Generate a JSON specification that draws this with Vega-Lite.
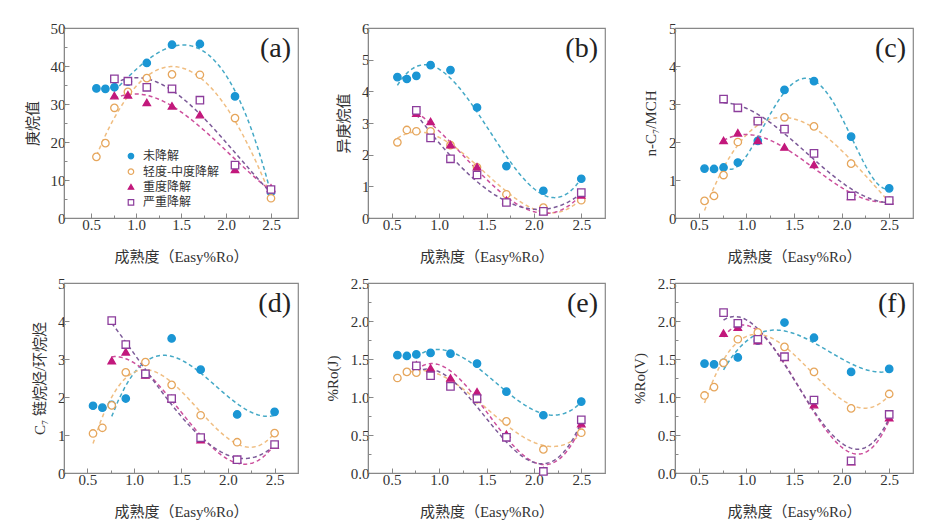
{
  "$schema": "https://vega.github.io/schema/vega-lite/v6.json",
  "background": "white",
  "padding": {"left": 24, "top": 20, "right": 5, "bottom": 5},
  "config": {
    "view": {"stroke": "#888888", "strokeWidth": 1.2},
    "axis": {
      "grid": false,
      "labelFont": "Liberation Serif",
      "labelFontSize": 15,
      "labelColor": "#333333",
      "titleFont": "Liberation Serif, Noto Sans CJK SC",
      "titleFontSize": 15,
      "titleFontWeight": "normal",
      "titleColor": "#333333",
      "domainColor": "#888888",
      "tickColor": "#888888",
      "labelPadding": 4,
      "titlePadding": 10
    },
    "title": {"font": "Liberation Serif", "fontSize": 28, "fontWeight": "normal", "color": "#222222", "anchor": "end", "frame": "group", "baseline": "alphabetic", "offset": -42, "dx": -7}
  },
  "datasets": {
    "legend": [{"grp": "未降解"}, {"grp": "轻度-中度降解"}, {"grp": "重度降解"}, {"grp": "严重降解"}],
    "a": [
      {"ro": 0.56, "grp": "未降解", "val": 34.1}, {"ro": 0.66, "grp": "未降解", "val": 34.0}, {"ro": 0.76, "grp": "未降解", "val": 34.4}, {"ro": 0.91, "grp": "未降解", "val": 35.9}, {"ro": 1.12, "grp": "未降解", "val": 40.8}, {"ro": 1.4, "grp": "未降解", "val": 45.6}, {"ro": 1.71, "grp": "未降解", "val": 45.8}, {"ro": 2.1, "grp": "未降解", "val": 32.0}, {"ro": 2.5, "grp": "未降解", "val": 6.8},
      {"ro": 0.56, "grp": "轻度-中度降解", "val": 16.1}, {"ro": 0.66, "grp": "轻度-中度降解", "val": 19.7}, {"ro": 0.76, "grp": "轻度-中度降解", "val": 29.0}, {"ro": 0.91, "grp": "轻度-中度降解", "val": 33.2}, {"ro": 1.12, "grp": "轻度-中度降解", "val": 36.8}, {"ro": 1.4, "grp": "轻度-中度降解", "val": 37.8}, {"ro": 1.71, "grp": "轻度-中度降解", "val": 37.7}, {"ro": 2.1, "grp": "轻度-中度降解", "val": 26.3}, {"ro": 2.5, "grp": "轻度-中度降解", "val": 5.2},
      {"ro": 0.76, "grp": "重度降解", "val": 32.2}, {"ro": 0.91, "grp": "重度降解", "val": 32.4}, {"ro": 1.12, "grp": "重度降解", "val": 30.4}, {"ro": 1.4, "grp": "重度降解", "val": 29.5}, {"ro": 1.71, "grp": "重度降解", "val": 27.2}, {"ro": 2.1, "grp": "重度降解", "val": 12.8}, {"ro": 2.5, "grp": "重度降解", "val": 7.9},
      {"ro": 0.76, "grp": "严重降解", "val": 36.6}, {"ro": 0.91, "grp": "严重降解", "val": 36.0}, {"ro": 1.12, "grp": "严重降解", "val": 34.4}, {"ro": 1.4, "grp": "严重降解", "val": 34.0}, {"ro": 1.71, "grp": "严重降解", "val": 31.0}, {"ro": 2.1, "grp": "严重降解", "val": 13.9}, {"ro": 2.5, "grp": "严重降解", "val": 7.5}
    ],
    "b": [
      {"ro": 0.56, "grp": "未降解", "val": 4.45}, {"ro": 0.66, "grp": "未降解", "val": 4.39}, {"ro": 0.76, "grp": "未降解", "val": 4.49}, {"ro": 0.91, "grp": "未降解", "val": 4.83}, {"ro": 1.12, "grp": "未降解", "val": 4.67}, {"ro": 1.4, "grp": "未降解", "val": 3.49}, {"ro": 1.71, "grp": "未降解", "val": 1.64}, {"ro": 2.1, "grp": "未降解", "val": 0.86}, {"ro": 2.5, "grp": "未降解", "val": 1.24},
      {"ro": 0.56, "grp": "轻度-中度降解", "val": 2.39}, {"ro": 0.66, "grp": "轻度-中度降解", "val": 2.78}, {"ro": 0.76, "grp": "轻度-中度降解", "val": 2.74}, {"ro": 0.91, "grp": "轻度-中度降解", "val": 2.74}, {"ro": 1.12, "grp": "轻度-中度降解", "val": 2.3}, {"ro": 1.4, "grp": "轻度-中度降解", "val": 1.6}, {"ro": 1.71, "grp": "轻度-中度降解", "val": 0.75}, {"ro": 2.1, "grp": "轻度-中度降解", "val": 0.33}, {"ro": 2.5, "grp": "轻度-中度降解", "val": 0.56},
      {"ro": 0.76, "grp": "重度降解", "val": 3.31}, {"ro": 0.91, "grp": "重度降解", "val": 3.05}, {"ro": 1.12, "grp": "重度降解", "val": 2.32}, {"ro": 1.4, "grp": "重度降解", "val": 1.62}, {"ro": 1.71, "grp": "重度降解", "val": 0.56}, {"ro": 2.1, "grp": "重度降解", "val": 0.21}, {"ro": 2.5, "grp": "重度降解", "val": 0.73},
      {"ro": 0.76, "grp": "严重降解", "val": 3.4}, {"ro": 0.91, "grp": "严重降解", "val": 2.53}, {"ro": 1.12, "grp": "严重降解", "val": 1.87}, {"ro": 1.4, "grp": "严重降解", "val": 1.36}, {"ro": 1.71, "grp": "严重降解", "val": 0.49}, {"ro": 2.1, "grp": "严重降解", "val": 0.21}, {"ro": 2.5, "grp": "严重降解", "val": 0.8}
    ],
    "c": [
      {"ro": 0.56, "grp": "未降解", "val": 1.30}, {"ro": 0.66, "grp": "未降解", "val": 1.29}, {"ro": 0.76, "grp": "未降解", "val": 1.33}, {"ro": 0.91, "grp": "未降解", "val": 1.46}, {"ro": 1.12, "grp": "未降解", "val": 2.03}, {"ro": 1.4, "grp": "未降解", "val": 3.37}, {"ro": 1.71, "grp": "未降解", "val": 3.6}, {"ro": 2.1, "grp": "未降解", "val": 2.14}, {"ro": 2.5, "grp": "未降解", "val": 0.78},
      {"ro": 0.56, "grp": "轻度-中度降解", "val": 0.45}, {"ro": 0.66, "grp": "轻度-中度降解", "val": 0.58}, {"ro": 0.76, "grp": "轻度-中度降解", "val": 1.13}, {"ro": 0.91, "grp": "轻度-中度降解", "val": 2.0}, {"ro": 1.12, "grp": "轻度-中度降解", "val": 2.55}, {"ro": 1.4, "grp": "轻度-中度降解", "val": 2.65}, {"ro": 1.71, "grp": "轻度-中度降解", "val": 2.41}, {"ro": 2.1, "grp": "轻度-中度降解", "val": 1.43}, {"ro": 2.5, "grp": "轻度-中度降解", "val": 0.46},
      {"ro": 0.76, "grp": "重度降解", "val": 2.04}, {"ro": 0.91, "grp": "重度降解", "val": 2.24}, {"ro": 1.12, "grp": "重度降解", "val": 2.04}, {"ro": 1.4, "grp": "重度降解", "val": 1.87}, {"ro": 1.71, "grp": "重度降解", "val": 1.41}, {"ro": 2.1, "grp": "重度降解", "val": 0.57}, {"ro": 2.5, "grp": "重度降解", "val": 0.46},
      {"ro": 0.76, "grp": "严重降解", "val": 3.13}, {"ro": 0.91, "grp": "严重降解", "val": 2.9}, {"ro": 1.12, "grp": "严重降解", "val": 2.55}, {"ro": 1.4, "grp": "严重降解", "val": 2.34}, {"ro": 1.71, "grp": "严重降解", "val": 1.70}, {"ro": 2.1, "grp": "严重降解", "val": 0.58}, {"ro": 2.5, "grp": "严重降解", "val": 0.46}
    ],
    "d": [
      {"ro": 0.56, "grp": "未降解", "val": 1.77}, {"ro": 0.66, "grp": "未降解", "val": 1.72}, {"ro": 0.76, "grp": "未降解", "val": 1.79}, {"ro": 0.91, "grp": "未降解", "val": 1.96}, {"ro": 1.12, "grp": "未降解", "val": 2.6}, {"ro": 1.4, "grp": "未降解", "val": 3.54}, {"ro": 1.71, "grp": "未降解", "val": 2.72}, {"ro": 2.1, "grp": "未降解", "val": 1.54}, {"ro": 2.5, "grp": "未降解", "val": 1.61},
      {"ro": 0.56, "grp": "轻度-中度降解", "val": 1.04}, {"ro": 0.66, "grp": "轻度-中度降解", "val": 1.19}, {"ro": 0.76, "grp": "轻度-中度降解", "val": 1.78}, {"ro": 0.91, "grp": "轻度-中度降解", "val": 2.65}, {"ro": 1.12, "grp": "轻度-中度降解", "val": 2.92}, {"ro": 1.4, "grp": "轻度-中度降解", "val": 2.32}, {"ro": 1.71, "grp": "轻度-中度降解", "val": 1.52}, {"ro": 2.1, "grp": "轻度-中度降解", "val": 0.81}, {"ro": 2.5, "grp": "轻度-中度降解", "val": 1.05},
      {"ro": 0.76, "grp": "重度降解", "val": 2.96}, {"ro": 0.91, "grp": "重度降解", "val": 3.19}, {"ro": 1.12, "grp": "重度降解", "val": 2.58}, {"ro": 1.4, "grp": "重度降解", "val": 1.96}, {"ro": 1.71, "grp": "重度降解", "val": 0.88}, {"ro": 2.1, "grp": "重度降解", "val": 0.35}, {"ro": 2.5, "grp": "重度降解", "val": 0.73},
      {"ro": 0.76, "grp": "严重降解", "val": 4.01}, {"ro": 0.91, "grp": "严重降解", "val": 3.38}, {"ro": 1.12, "grp": "严重降解", "val": 2.61}, {"ro": 1.4, "grp": "严重降解", "val": 1.96}, {"ro": 1.71, "grp": "严重降解", "val": 0.93}, {"ro": 2.1, "grp": "严重降解", "val": 0.35}, {"ro": 2.5, "grp": "严重降解", "val": 0.75}
    ],
    "e": [
      {"ro": 0.56, "grp": "未降解", "val": 1.55}, {"ro": 0.66, "grp": "未降解", "val": 1.54}, {"ro": 0.76, "grp": "未降解", "val": 1.56}, {"ro": 0.91, "grp": "未降解", "val": 1.58}, {"ro": 1.12, "grp": "未降解", "val": 1.57}, {"ro": 1.4, "grp": "未降解", "val": 1.44}, {"ro": 1.71, "grp": "未降解", "val": 1.07}, {"ro": 2.1, "grp": "未降解", "val": 0.76}, {"ro": 2.5, "grp": "未降解", "val": 0.94},
      {"ro": 0.56, "grp": "轻度-中度降解", "val": 1.25}, {"ro": 0.66, "grp": "轻度-中度降解", "val": 1.33}, {"ro": 0.76, "grp": "轻度-中度降解", "val": 1.32}, {"ro": 0.91, "grp": "轻度-中度降解", "val": 1.33}, {"ro": 1.12, "grp": "轻度-中度降解", "val": 1.2}, {"ro": 1.4, "grp": "轻度-中度降解", "val": 0.97}, {"ro": 1.71, "grp": "轻度-中度降解", "val": 0.68}, {"ro": 2.1, "grp": "轻度-中度降解", "val": 0.31}, {"ro": 2.5, "grp": "轻度-中度降解", "val": 0.53},
      {"ro": 0.76, "grp": "重度降解", "val": 1.42}, {"ro": 0.91, "grp": "重度降解", "val": 1.38}, {"ro": 1.12, "grp": "重度降解", "val": 1.25}, {"ro": 1.4, "grp": "重度降解", "val": 1.07}, {"ro": 1.71, "grp": "重度降解", "val": 0.51}, {"ro": 2.1, "grp": "重度降解", "val": 0.03}, {"ro": 2.5, "grp": "重度降解", "val": 0.65},
      {"ro": 0.76, "grp": "严重降解", "val": 1.41}, {"ro": 0.91, "grp": "严重降解", "val": 1.28}, {"ro": 1.12, "grp": "严重降解", "val": 1.14}, {"ro": 1.4, "grp": "严重降解", "val": 0.98}, {"ro": 1.71, "grp": "严重降解", "val": 0.47}, {"ro": 2.1, "grp": "严重降解", "val": 0.02}, {"ro": 2.5, "grp": "严重降解", "val": 0.70}
    ],
    "f": [
      {"ro": 0.56, "grp": "未降解", "val": 1.44}, {"ro": 0.66, "grp": "未降解", "val": 1.43}, {"ro": 0.76, "grp": "未降解", "val": 1.45}, {"ro": 0.91, "grp": "未降解", "val": 1.52}, {"ro": 1.12, "grp": "未降解", "val": 1.74}, {"ro": 1.4, "grp": "未降解", "val": 1.98}, {"ro": 1.71, "grp": "未降解", "val": 1.78}, {"ro": 2.1, "grp": "未降解", "val": 1.33}, {"ro": 2.5, "grp": "未降解", "val": 1.37},
      {"ro": 0.56, "grp": "轻度-中度降解", "val": 1.02}, {"ro": 0.66, "grp": "轻度-中度降解", "val": 1.13}, {"ro": 0.76, "grp": "轻度-中度降解", "val": 1.45}, {"ro": 0.91, "grp": "轻度-中度降解", "val": 1.76}, {"ro": 1.12, "grp": "轻度-中度降解", "val": 1.85}, {"ro": 1.4, "grp": "轻度-中度降解", "val": 1.66}, {"ro": 1.71, "grp": "轻度-中度降解", "val": 1.33}, {"ro": 2.1, "grp": "轻度-中度降解", "val": 0.85}, {"ro": 2.5, "grp": "轻度-中度降解", "val": 1.04},
      {"ro": 0.76, "grp": "重度降解", "val": 1.84}, {"ro": 0.91, "grp": "重度降解", "val": 1.92}, {"ro": 1.12, "grp": "重度降解", "val": 1.74}, {"ro": 1.4, "grp": "重度降解", "val": 1.52}, {"ro": 1.71, "grp": "重度降解", "val": 0.90}, {"ro": 2.1, "grp": "重度降解", "val": 0.15}, {"ro": 2.5, "grp": "重度降解", "val": 0.73},
      {"ro": 0.76, "grp": "严重降解", "val": 2.11}, {"ro": 0.91, "grp": "严重降解", "val": 1.97}, {"ro": 1.12, "grp": "严重降解", "val": 1.76}, {"ro": 1.4, "grp": "严重降解", "val": 1.53}, {"ro": 1.71, "grp": "严重降解", "val": 0.96}, {"ro": 2.1, "grp": "严重降解", "val": 0.16}, {"ro": 2.5, "grp": "严重降解", "val": 0.77}
    ]
  },
  "columns": 3,
  "spacing": {"row": 65, "column": 70},
  "bounds": "flush",
  "resolve": {"scale": {"color": "independent", "stroke": "independent", "fill": "independent", "shape": "independent"}},
  "concat": [
    {
      "width": 234, "height": 190,
      "title": {"text": "(a)"},
      "layer": [
        {
          "data": {"name": "a"},
          "encoding": {
            "x": {"field": "ro", "type": "quantitative", "title": "成熟度（Easy%Ro）", "scale": {"domain": [0.25, 2.75]},
              "axis": {"titlePadding": 17, "values": [0.5, 0.75, 1, 1.25, 1.5, 1.75, 2, 2.25, 2.5], "format": ".1f", "labelExpr": "(datum.value*2) % 1 == 0 ? datum.label : ''", "tickSize": {"condition": {"test": "(datum.value*2) % 1 == 0", "value": -5}, "value": -3}}},
            "y": {"field": "val", "type": "quantitative", "title": "庚烷值", "scale": {"domain": [0, 50]},
              "axis": {"values": [0, 5, 10, 15, 20, 25, 30, 35, 40, 45, 50], "format": "d", "labelExpr": "datum.value % 10 == 0 ? datum.label : ''", "tickSize": {"condition": {"test": "datum.value % 10 == 0", "value": -5}, "value": -3}}}
          },
          "layer": [
            {
              "transform": [{"filter": "datum.grp != '未降解' || datum.ro > 0.7"}, {"regression": "val", "on": "ro", "groupby": ["grp"], "method": "poly", "order": 3}],
              "mark": {"type": "line", "strokeDash": [4, 3], "strokeWidth": 1.5},
              "encoding": {"color": {"field": "grp", "type": "nominal", "legend": null, "scale": {"domain": ["未降解", "轻度-中度降解", "重度降解", "严重降解"], "range": ["#45a9c6", "#f0be82", "#cc4f9c", "#7c5a98"]}}}
            },
            {
              "mark": {"type": "point", "size": 55, "strokeWidth": 1.3, "opacity": 1},
              "encoding": {
                "shape": {"field": "grp", "type": "nominal", "legend": null, "scale": {"domain": ["未降解", "轻度-中度降解", "重度降解", "严重降解"], "range": ["circle", "circle", "triangle-up", "square"]}},
                "stroke": {"field": "grp", "type": "nominal", "legend": null, "scale": {"domain": ["未降解", "轻度-中度降解", "重度降解", "严重降解"], "range": ["#1b96d4", "#e6a65c", "#c2187c", "#8c3d9c"]}},
                "fill": {"field": "grp", "type": "nominal", "legend": null, "scale": {"domain": ["未降解", "轻度-中度降解", "重度降解", "严重降解"], "range": ["#1b96d4", "#ffffff", "#c2187c", "#ffffff"]}}
              }
            }
          ]
        },
        {
          "data": {"name": "legend"},
          "encoding": {"x": {"datum": 0.944, "type": "quantitative", "title": "成熟度（Easy%Ro）",
            "axis": {"titlePadding": 17, "values": [0.5, 0.75, 1, 1.25, 1.5, 1.75, 2, 2.25, 2.5], "format": ".1f", "labelExpr": "(datum.value*2) % 1 == 0 ? datum.label : ''", "tickSize": {"condition": {"test": "(datum.value*2) % 1 == 0", "value": -5}, "value": -3}}}},
          "layer": [
            {
              "transform": [{"filter": "datum.grp == '未降解'"}],
              "encoding": {"y": {"datum": 16.3, "type": "quantitative", "title": "庚烷值", "axis": {"values": [0, 5, 10, 15, 20, 25, 30, 35, 40, 45, 50], "format": "d", "labelExpr": "datum.value % 10 == 0 ? datum.label : ''", "tickSize": {"condition": {"test": "datum.value % 10 == 0", "value": -5}, "value": -3}}}},
              "layer": [
                {"mark": {"type": "point", "size": 30, "strokeWidth": 1.2, "opacity": 1}, "encoding": {"shape": {"field": "grp", "type": "nominal", "legend": null}, "stroke": {"field": "grp", "type": "nominal", "legend": null}, "fill": {"field": "grp", "type": "nominal", "legend": null}}},
                {"mark": {"type": "text", "align": "left", "baseline": "middle", "dx": 12, "font": "Noto Sans CJK SC", "fontSize": 12, "color": "#333333"}, "encoding": {"text": {"field": "grp", "type": "nominal"}}}
              ]
            },
            {
              "transform": [{"filter": "datum.grp == '轻度-中度降解'"}],
              "encoding": {"y": {"datum": 12.2, "type": "quantitative", "title": "庚烷值", "axis": {"values": [0, 5, 10, 15, 20, 25, 30, 35, 40, 45, 50], "format": "d", "labelExpr": "datum.value % 10 == 0 ? datum.label : ''", "tickSize": {"condition": {"test": "datum.value % 10 == 0", "value": -5}, "value": -3}}}},
              "layer": [
                {"mark": {"type": "point", "size": 30, "strokeWidth": 1.2, "opacity": 1}, "encoding": {"shape": {"field": "grp", "type": "nominal", "legend": null}, "stroke": {"field": "grp", "type": "nominal", "legend": null}, "fill": {"field": "grp", "type": "nominal", "legend": null}}},
                {"mark": {"type": "text", "align": "left", "baseline": "middle", "dx": 12, "font": "Noto Sans CJK SC", "fontSize": 12, "color": "#333333"}, "encoding": {"text": {"field": "grp", "type": "nominal"}}}
              ]
            },
            {
              "transform": [{"filter": "datum.grp == '重度降解'"}],
              "encoding": {"y": {"datum": 8.2, "type": "quantitative", "title": "庚烷值", "axis": {"values": [0, 5, 10, 15, 20, 25, 30, 35, 40, 45, 50], "format": "d", "labelExpr": "datum.value % 10 == 0 ? datum.label : ''", "tickSize": {"condition": {"test": "datum.value % 10 == 0", "value": -5}, "value": -3}}}},
              "layer": [
                {"mark": {"type": "point", "size": 30, "strokeWidth": 1.2, "opacity": 1}, "encoding": {"shape": {"field": "grp", "type": "nominal", "legend": null}, "stroke": {"field": "grp", "type": "nominal", "legend": null}, "fill": {"field": "grp", "type": "nominal", "legend": null}}},
                {"mark": {"type": "text", "align": "left", "baseline": "middle", "dx": 12, "font": "Noto Sans CJK SC", "fontSize": 12, "color": "#333333"}, "encoding": {"text": {"field": "grp", "type": "nominal"}}}
              ]
            },
            {
              "transform": [{"filter": "datum.grp == '严重降解'"}],
              "encoding": {"y": {"datum": 4.1, "type": "quantitative", "title": "庚烷值", "axis": {"values": [0, 5, 10, 15, 20, 25, 30, 35, 40, 45, 50], "format": "d", "labelExpr": "datum.value % 10 == 0 ? datum.label : ''", "tickSize": {"condition": {"test": "datum.value % 10 == 0", "value": -5}, "value": -3}}}},
              "layer": [
                {"mark": {"type": "point", "size": 30, "strokeWidth": 1.2, "opacity": 1}, "encoding": {"shape": {"field": "grp", "type": "nominal", "legend": null}, "stroke": {"field": "grp", "type": "nominal", "legend": null}, "fill": {"field": "grp", "type": "nominal", "legend": null}}},
                {"mark": {"type": "text", "align": "left", "baseline": "middle", "dx": 12, "font": "Noto Sans CJK SC", "fontSize": 12, "color": "#333333"}, "encoding": {"text": {"field": "grp", "type": "nominal"}}}
              ]
            }
          ]
        }
      ]
    },
    {
      "width": 237, "height": 190,
      "data": {"name": "b"},
      "title": {"text": "(b)"},
      "encoding": {
        "x": {"field": "ro", "type": "quantitative", "title": "成熟度（Easy%Ro）", "scale": {"domain": [0.25, 2.75]},
          "axis": {"titlePadding": 17, "values": [0.5, 0.75, 1, 1.25, 1.5, 1.75, 2, 2.25, 2.5], "format": ".1f", "labelExpr": "(datum.value*2) % 1 == 0 ? datum.label : ''", "tickSize": {"condition": {"test": "(datum.value*2) % 1 == 0", "value": -5}, "value": -3}}},
        "y": {"field": "val", "type": "quantitative", "title": "异庚烷值", "scale": {"domain": [0, 6]},
          "axis": {"values": [0, 0.5, 1, 1.5, 2, 2.5, 3, 3.5, 4, 4.5, 5, 5.5, 6], "format": "d", "labelExpr": "datum.value % 1 == 0 ? datum.label : ''", "tickSize": {"condition": {"test": "datum.value % 1 == 0", "value": -5}, "value": -3}}}
      },
      "layer": [
        {
          "transform": [{"regression": "val", "on": "ro", "groupby": ["grp"], "method": "poly", "order": 3}],
          "mark": {"type": "line", "strokeDash": [4, 3], "strokeWidth": 1.5},
          "encoding": {"color": {"field": "grp", "type": "nominal", "legend": null, "scale": {"domain": ["未降解", "轻度-中度降解", "重度降解", "严重降解"], "range": ["#45a9c6", "#f0be82", "#cc4f9c", "#7c5a98"]}}}
        },
        {
          "mark": {"type": "point", "size": 55, "strokeWidth": 1.3, "opacity": 1},
          "encoding": {
            "shape": {"field": "grp", "type": "nominal", "legend": null, "scale": {"domain": ["未降解", "轻度-中度降解", "重度降解", "严重降解"], "range": ["circle", "circle", "triangle-up", "square"]}},
            "stroke": {"field": "grp", "type": "nominal", "legend": null, "scale": {"domain": ["未降解", "轻度-中度降解", "重度降解", "严重降解"], "range": ["#1b96d4", "#e6a65c", "#c2187c", "#8c3d9c"]}},
            "fill": {"field": "grp", "type": "nominal", "legend": null, "scale": {"domain": ["未降解", "轻度-中度降解", "重度降解", "严重降解"], "range": ["#1b96d4", "#ffffff", "#c2187c", "#ffffff"]}}
          }
        }
      ]
    },
    {
      "width": 238, "height": 190,
      "data": {"name": "c"},
      "title": {"text": "(c)"},
      "encoding": {
        "x": {"field": "ro", "type": "quantitative", "title": "成熟度（Easy%Ro）", "scale": {"domain": [0.25, 2.75]},
          "axis": {"titlePadding": 17, "values": [0.5, 0.75, 1, 1.25, 1.5, 1.75, 2, 2.25, 2.5], "format": ".1f", "labelExpr": "(datum.value*2) % 1 == 0 ? datum.label : ''", "tickSize": {"condition": {"test": "(datum.value*2) % 1 == 0", "value": -5}, "value": -3}}},
        "y": {"field": "val", "type": "quantitative", "title": "n-C₇/MCH", "scale": {"domain": [0, 5]},
          "axis": {"values": [0, 0.5, 1, 1.5, 2, 2.5, 3, 3.5, 4, 4.5, 5], "format": "d", "labelExpr": "datum.value % 1 == 0 ? datum.label : ''", "tickSize": {"condition": {"test": "datum.value % 1 == 0", "value": -5}, "value": -3}}}
      },
      "layer": [
        {
          "transform": [{"filter": "datum.grp != '未降解'"}, {"regression": "val", "on": "ro", "groupby": ["grp"], "method": "poly", "order": 3}],
          "mark": {"type": "line", "strokeDash": [4, 3], "strokeWidth": 1.5},
          "encoding": {"color": {"field": "grp", "type": "nominal", "legend": null, "scale": {"domain": ["未降解", "轻度-中度降解", "重度降解", "严重降解"], "range": ["#45a9c6", "#f0be82", "#cc4f9c", "#7c5a98"]}}}
        },
        {
          "transform": [{"filter": "datum.grp == '未降解' && datum.ro > 0.7"}, {"regression": "val", "on": "ro", "groupby": ["grp"], "method": "poly", "order": 4}],
          "mark": {"type": "line", "strokeDash": [4, 3], "strokeWidth": 1.5},
          "encoding": {"color": {"field": "grp", "type": "nominal", "legend": null}}
        },
        {
          "mark": {"type": "point", "size": 55, "strokeWidth": 1.3, "opacity": 1},
          "encoding": {
            "shape": {"field": "grp", "type": "nominal", "legend": null, "scale": {"domain": ["未降解", "轻度-中度降解", "重度降解", "严重降解"], "range": ["circle", "circle", "triangle-up", "square"]}},
            "stroke": {"field": "grp", "type": "nominal", "legend": null, "scale": {"domain": ["未降解", "轻度-中度降解", "重度降解", "严重降解"], "range": ["#1b96d4", "#e6a65c", "#c2187c", "#8c3d9c"]}},
            "fill": {"field": "grp", "type": "nominal", "legend": null, "scale": {"domain": ["未降解", "轻度-中度降解", "重度降解", "严重降解"], "range": ["#1b96d4", "#ffffff", "#c2187c", "#ffffff"]}}
          }
        }
      ]
    },
    {
      "width": 234, "height": 190,
      "data": {"name": "d"},
      "title": {"text": "(d)"},
      "encoding": {
        "x": {"field": "ro", "type": "quantitative", "title": "成熟度（Easy%Ro）", "scale": {"domain": [0.25, 2.75]},
          "axis": {"titlePadding": 17, "values": [0.5, 0.75, 1, 1.25, 1.5, 1.75, 2, 2.25, 2.5], "format": ".1f", "labelExpr": "(datum.value*2) % 1 == 0 ? datum.label : ''", "tickSize": {"condition": {"test": "(datum.value*2) % 1 == 0", "value": -5}, "value": -3}}},
        "y": {"field": "val", "type": "quantitative", "title": "C₇ 链烷烃/环烷烃", "scale": {"domain": [0, 5]},
          "axis": {"values": [0, 0.5, 1, 1.5, 2, 2.5, 3, 3.5, 4, 4.5, 5], "format": "d", "labelExpr": "datum.value % 1 == 0 ? datum.label : ''", "tickSize": {"condition": {"test": "datum.value % 1 == 0", "value": -5}, "value": -3}}}
      },
      "layer": [
        {
          "transform": [{"filter": "datum.grp != '未降解' || datum.ro > 0.7"}, {"regression": "val", "on": "ro", "groupby": ["grp"], "method": "poly", "order": 3}],
          "mark": {"type": "line", "strokeDash": [4, 3], "strokeWidth": 1.5},
          "encoding": {"color": {"field": "grp", "type": "nominal", "legend": null, "scale": {"domain": ["未降解", "轻度-中度降解", "重度降解", "严重降解"], "range": ["#45a9c6", "#f0be82", "#cc4f9c", "#7c5a98"]}}}
        },
        {
          "mark": {"type": "point", "size": 55, "strokeWidth": 1.3, "opacity": 1},
          "encoding": {
            "shape": {"field": "grp", "type": "nominal", "legend": null, "scale": {"domain": ["未降解", "轻度-中度降解", "重度降解", "严重降解"], "range": ["circle", "circle", "triangle-up", "square"]}},
            "stroke": {"field": "grp", "type": "nominal", "legend": null, "scale": {"domain": ["未降解", "轻度-中度降解", "重度降解", "严重降解"], "range": ["#1b96d4", "#e6a65c", "#c2187c", "#8c3d9c"]}},
            "fill": {"field": "grp", "type": "nominal", "legend": null, "scale": {"domain": ["未降解", "轻度-中度降解", "重度降解", "严重降解"], "range": ["#1b96d4", "#ffffff", "#c2187c", "#ffffff"]}}
          }
        }
      ]
    },
    {
      "width": 237, "height": 190,
      "data": {"name": "e"},
      "title": {"text": "(e)"},
      "encoding": {
        "x": {"field": "ro", "type": "quantitative", "title": "成熟度（Easy%Ro）", "scale": {"domain": [0.25, 2.75]},
          "axis": {"titlePadding": 17, "values": [0.5, 0.75, 1, 1.25, 1.5, 1.75, 2, 2.25, 2.5], "format": ".1f", "labelExpr": "(datum.value*2) % 1 == 0 ? datum.label : ''", "tickSize": {"condition": {"test": "(datum.value*2) % 1 == 0", "value": -5}, "value": -3}}},
        "y": {"field": "val", "type": "quantitative", "title": "%Ro(J)", "scale": {"domain": [0, 2.5]},
          "axis": {"values": [0, 0.25, 0.5, 0.75, 1, 1.25, 1.5, 1.75, 2, 2.25, 2.5], "format": ".1f", "labelExpr": "(datum.value*2) % 1 == 0 ? datum.label : ''", "tickSize": {"condition": {"test": "(datum.value*2) % 1 == 0", "value": -5}, "value": -3}}}
      },
      "layer": [
        {
          "transform": [{"filter": "datum.grp != '未降解' || datum.ro > 0.7"}, {"regression": "val", "on": "ro", "groupby": ["grp"], "method": "poly", "order": 3}],
          "mark": {"type": "line", "strokeDash": [4, 3], "strokeWidth": 1.5},
          "encoding": {"color": {"field": "grp", "type": "nominal", "legend": null, "scale": {"domain": ["未降解", "轻度-中度降解", "重度降解", "严重降解"], "range": ["#45a9c6", "#f0be82", "#cc4f9c", "#7c5a98"]}}}
        },
        {
          "mark": {"type": "point", "size": 55, "strokeWidth": 1.3, "opacity": 1},
          "encoding": {
            "shape": {"field": "grp", "type": "nominal", "legend": null, "scale": {"domain": ["未降解", "轻度-中度降解", "重度降解", "严重降解"], "range": ["circle", "circle", "triangle-up", "square"]}},
            "stroke": {"field": "grp", "type": "nominal", "legend": null, "scale": {"domain": ["未降解", "轻度-中度降解", "重度降解", "严重降解"], "range": ["#1b96d4", "#e6a65c", "#c2187c", "#8c3d9c"]}},
            "fill": {"field": "grp", "type": "nominal", "legend": null, "scale": {"domain": ["未降解", "轻度-中度降解", "重度降解", "严重降解"], "range": ["#1b96d4", "#ffffff", "#c2187c", "#ffffff"]}}
          }
        }
      ]
    },
    {
      "width": 238, "height": 190,
      "data": {"name": "f"},
      "title": {"text": "(f)"},
      "encoding": {
        "x": {"field": "ro", "type": "quantitative", "title": "成熟度（Easy%Ro）", "scale": {"domain": [0.25, 2.75]},
          "axis": {"titlePadding": 17, "values": [0.5, 0.75, 1, 1.25, 1.5, 1.75, 2, 2.25, 2.5], "format": ".1f", "labelExpr": "(datum.value*2) % 1 == 0 ? datum.label : ''", "tickSize": {"condition": {"test": "(datum.value*2) % 1 == 0", "value": -5}, "value": -3}}},
        "y": {"field": "val", "type": "quantitative", "title": "%Ro(V)", "scale": {"domain": [0, 2.5]},
          "axis": {"values": [0, 0.25, 0.5, 0.75, 1, 1.25, 1.5, 1.75, 2, 2.25, 2.5], "format": ".1f", "labelExpr": "(datum.value*2) % 1 == 0 ? datum.label : ''", "tickSize": {"condition": {"test": "(datum.value*2) % 1 == 0", "value": -5}, "value": -3}}}
      },
      "layer": [
        {
          "transform": [{"filter": "datum.grp != '未降解' || datum.ro > 0.7"}, {"regression": "val", "on": "ro", "groupby": ["grp"], "method": "poly", "order": 3}],
          "mark": {"type": "line", "strokeDash": [4, 3], "strokeWidth": 1.5},
          "encoding": {"color": {"field": "grp", "type": "nominal", "legend": null, "scale": {"domain": ["未降解", "轻度-中度降解", "重度降解", "严重降解"], "range": ["#45a9c6", "#f0be82", "#cc4f9c", "#7c5a98"]}}}
        },
        {
          "mark": {"type": "point", "size": 55, "strokeWidth": 1.3, "opacity": 1},
          "encoding": {
            "shape": {"field": "grp", "type": "nominal", "legend": null, "scale": {"domain": ["未降解", "轻度-中度降解", "重度降解", "严重降解"], "range": ["circle", "circle", "triangle-up", "square"]}},
            "stroke": {"field": "grp", "type": "nominal", "legend": null, "scale": {"domain": ["未降解", "轻度-中度降解", "重度降解", "严重降解"], "range": ["#1b96d4", "#e6a65c", "#c2187c", "#8c3d9c"]}},
            "fill": {"field": "grp", "type": "nominal", "legend": null, "scale": {"domain": ["未降解", "轻度-中度降解", "重度降解", "严重降解"], "range": ["#1b96d4", "#ffffff", "#c2187c", "#ffffff"]}}
          }
        }
      ]
    }
  ]
}
